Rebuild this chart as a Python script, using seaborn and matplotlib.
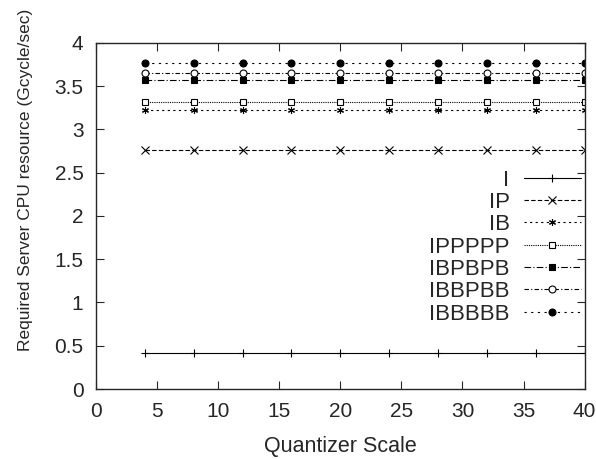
import numpy as np
import pandas as pd
import seaborn as sns
import matplotlib
matplotlib.use("Agg")
import matplotlib.pyplot as plt

# data
qscale = [4, 8, 12, 16, 20, 24, 28, 32, 36, 40]
schemes = ["I", "IP", "IB", "IPPPPP", "IBPBPB", "IBBPBB", "IBBBBB"]
cpu = {
    "I": 0.42,
    "IP": 2.76,
    "IB": 3.23,
    "IPPPPP": 3.32,
    "IBPBPB": 3.57,
    "IBBPBB": 3.65,
    "IBBBBB": 3.77,
}

# line style per scheme: (dashes, marker, filled)
styles = {
    "I": ("-", "+", True),
    "IP": ((0, (4, 2)), "x", True),
    "IB": ((0, (2, 3)), (6, 2, 0), True),
    "IPPPPP": ((0, (1, 1)), "s", False),
    "IBPBPB": ((0, (6, 2, 1, 2)), "s", True),
    "IBBPBB": ((0, (4, 2, 1, 2)), "o", False),
    "IBBBBB": ((0, (2, 4)), "o", True),
}

rows = []
for s in schemes:
    for q in qscale:
        rows.append({"scheme": s, "q": q, "cpu": cpu[s]})
df = pd.DataFrame(rows)

sns.set_style("ticks")
plt.rcParams["font.family"] = ["Liberation Sans", "DejaVu Sans"]

fig = plt.figure(figsize=(5.96, 4.59), dpi=100)
ax = fig.add_axes([0.161, 0.1525, 0.820, 0.754])

for s in schemes:
    ls, mk, filled = styles[s]
    sub = df[df["scheme"] == s]
    sns.lineplot(data=sub, x="q", y="cpu", ax=ax, color="black",
                 linestyle=ls, linewidth=0.8, marker=mk,
                 markersize=6 if mk in ("+", "x") else 5,
                 markerfacecolor="black" if filled else "white",
                 markeredgecolor="black", markeredgewidth=0.8,
                 label=s)

ax.set_xlim(0, 40)
ax.set_ylim(0, 4)
ax.set_xticks(np.arange(0, 41, 5))
ax.set_yticks(np.arange(0, 4.01, 0.5))
ax.set_yticklabels(["0", "0.5", "1", "1.5", "2", "2.5", "3", "3.5", "4"])
ax.tick_params(direction="in", top=True, right=True, length=6, width=0.8,
               labelsize=15)
ax.tick_params(axis="y", pad=9)
ax.tick_params(axis="x", pad=9)
for sp in ax.spines.values():
    sp.set_linewidth(1.0)
ax.set_xlabel("Quantizer Scale", fontsize=15.5, labelpad=11)
ax.set_ylabel("Required Server CPU resource (Gcycle/sec)", fontsize=12.5)
ax.yaxis.set_label_coords(-0.128, 0.604)

ax.legend(loc="center right", bbox_to_anchor=(1.0, 0.41), frameon=False,
          markerfirst=False, handlelength=2.6, labelspacing=0.06,
          handletextpad=0.63, fontsize=16, borderaxespad=0.15,
          borderpad=0.0)

fig.savefig("out.png", dpi=100)
